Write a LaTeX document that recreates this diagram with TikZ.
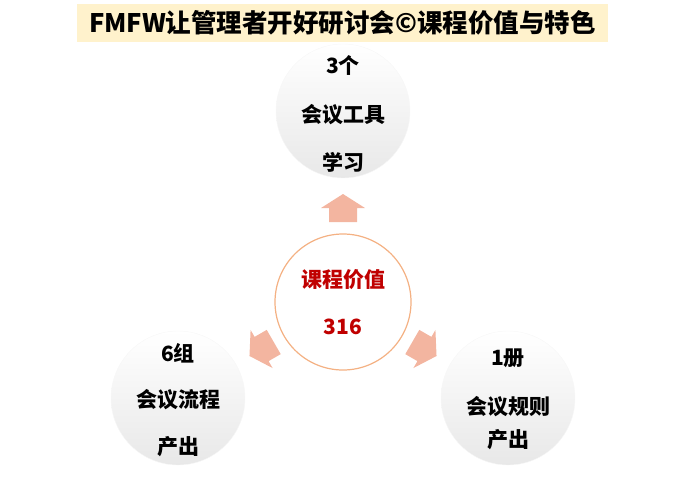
\documentclass[tikz,border=0pt]{standalone}
\usepackage{fontspec}
\usepackage{tikz}
\newfontfamily\cjk{Noto Sans CJK SC}
\definecolor{tt}{RGB}{255, 242, 204}
\definecolor{rr}{RGB}{192, 0, 0}
\definecolor{oo}{RGB}{244, 177, 131}
\definecolor{pp}{RGB}{243, 181, 160}
\definecolor{gg}{RGB}{232, 232, 232}
\usetikzlibrary{positioning,calc}
\def\radius{67}
\newcommand{\outcome}[9]{\node[circle,minimum size=2*\radius pt,inner sep=0pt,top color=white,middle color=white,bottom color=gg,draw=gg!35] (#3) at (#1,#2) {};
	\node[font=\cjk\bfseries\fontsize{21}{21}\selectfont] (#3-a) at ($(#3)+(0,#7)$) {#4};
	\node[font=\cjk\bfseries\fontsize{21}{21}\selectfont] (#3-b) at ($(#3)+(0,#8)$) {#5};
	\node[font=\cjk\bfseries\fontsize{21}{21}\selectfont] (#3-c) at ($(#3)+(0,#9)$) {#6}; }
\newcommand{\valuearrow}[1]{\fill[color=pp,rotate around={#1:(value.center)}] (343,194) -- (365,208) -- (357,208) -- (357,222) -- (329,222) -- (329,208) -- (321,208) -- cycle;}

\begin{document}
\begin{tikzpicture}[x=1pt,y=-1pt]
\useasboundingbox (0,0) rectangle (687,482);
\node[fill=tt,minimum width=531pt,minimum height=38pt,inner sep=0pt,font=\cjk\bfseries\fontsize{25.5}{25.5}\selectfont] (title) at (342.5,23) {FMFW让管理者开好研讨会©课程价值与特色};

\outcome{343}{111}{tool}{3个}{会议工具}{学习}{-46}{4}{51}
\outcome{178}{398}{flow}{6组}{会议流程}{产出}{-45}{2}{49}
\outcome{508}{398}{rule}{1册}{会议规则}{产出}{-40}{9}{42}

\node[circle,minimum size=136pt,inner sep=0pt,draw=oo,line width=1.2pt,fill=white] (value) at (343,302) {};
\node[font=\cjk\bfseries\fontsize{21}{21}\selectfont,color=rr] (value-a) at ($(value)+(0,-22)$) {课程价值};
\node[font=\cjk\bfseries\fontsize{21}{21}\selectfont,color=rr] (value-b) at ($(value)+(0,25)$) {316};

\valuearrow{0}
\valuearrow{120}
\valuearrow{-120}
\end{tikzpicture}
\end{document}
